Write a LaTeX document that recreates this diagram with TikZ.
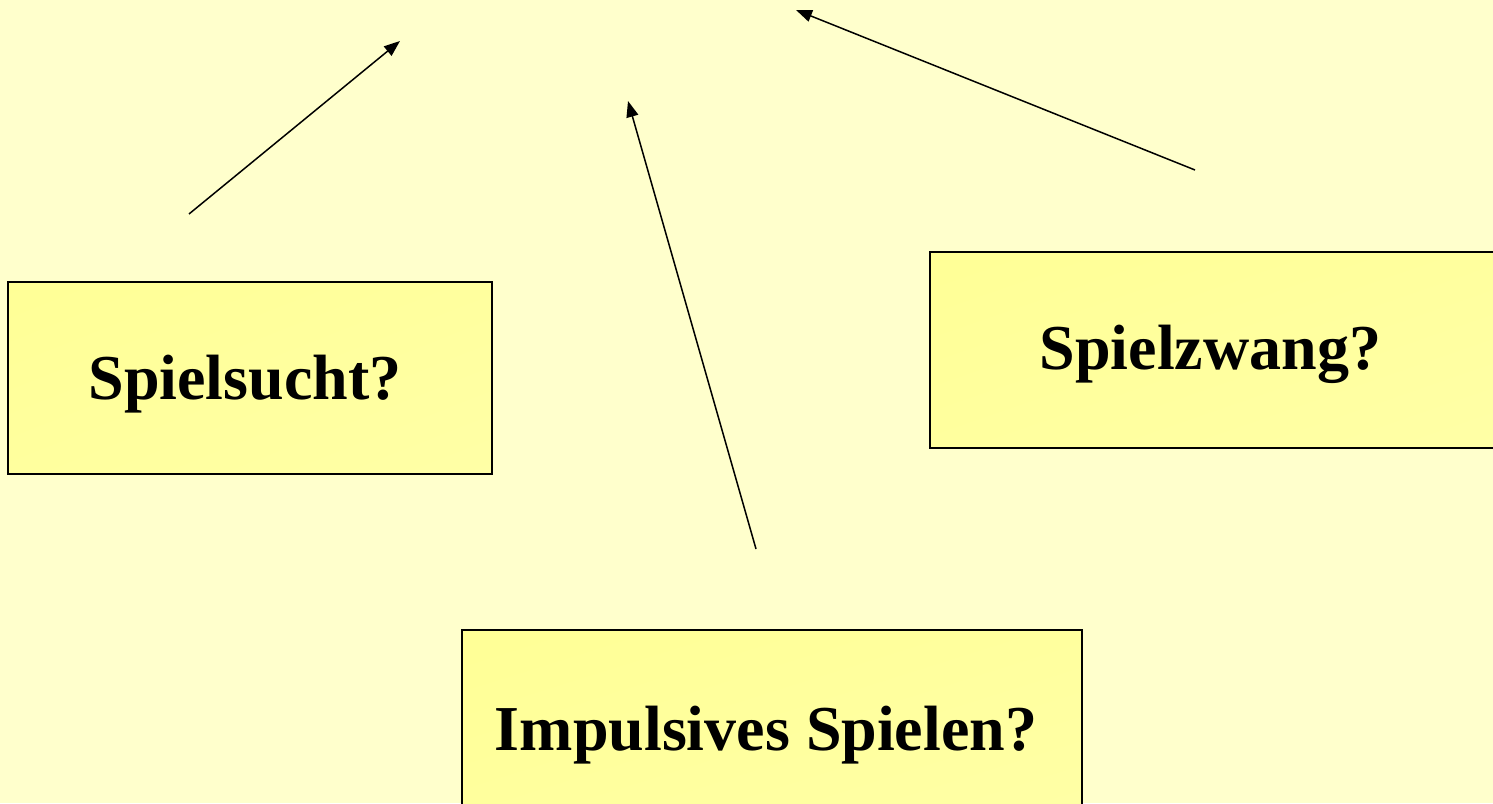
\documentclass[tikz,border=0pt]{standalone}
\usepackage{fontspec}
\setmainfont{Liberation Serif}
\usetikzlibrary{arrows.meta,shadings}
\definecolor{bg}{HTML}{FFFFCC}
\definecolor{boxA}{HTML}{FFFF96}
\definecolor{boxB}{HTML}{FFFFA6}
\definecolor{boxM}{HTML}{FFFF9E}
\tikzset{
  box/.style={draw=black, line width=1.4pt, shade, upper left=boxA, upper right=boxM,
    lower left=boxM, lower right=boxB, inner sep=0pt,
    font=\fontsize{64}{70}\selectfont\bfseries},
  arr/.style={draw=black, line width=1.5pt, -{Triangle[length=16pt,width=12pt]}}
}
\begin{document}
\begin{tikzpicture}[x=1pt,y=-1pt]
\clip (0,0) rectangle (1493,803);
\fill[bg] (0,0) rectangle (1493,803);
\useasboundingbox (0,0) rectangle (1493,803);

\node[box, minimum width=484pt, minimum height=192pt, text height=50pt, text depth=8pt]
  (sucht) at (250,378) {Spielsucht?\hspace*{10pt}};
\node[box, minimum width=565pt, minimum height=196pt, text height=46pt, text depth=8pt]
  (zwang) at (1212.5,350) {Spielzwang?\hspace*{4pt}};
\node[box, minimum width=620pt, minimum height=196pt, text height=52pt, text depth=7pt]
  (impuls) at (772,728) {Impulsives Spielen?\hspace*{12pt}};

\coordinate (s0) at (189,214);
\coordinate (s1) at (400,41);
\coordinate (i0) at (756,549);
\coordinate (i1) at (628,101);
\coordinate (z0) at (1195,170);
\coordinate (z1) at (796,10);

\draw[arr] (s0) -- (s1);
\draw[arr] (i0) -- (i1);
\draw[arr] (z0) -- (z1);
\end{tikzpicture}
\end{document}
